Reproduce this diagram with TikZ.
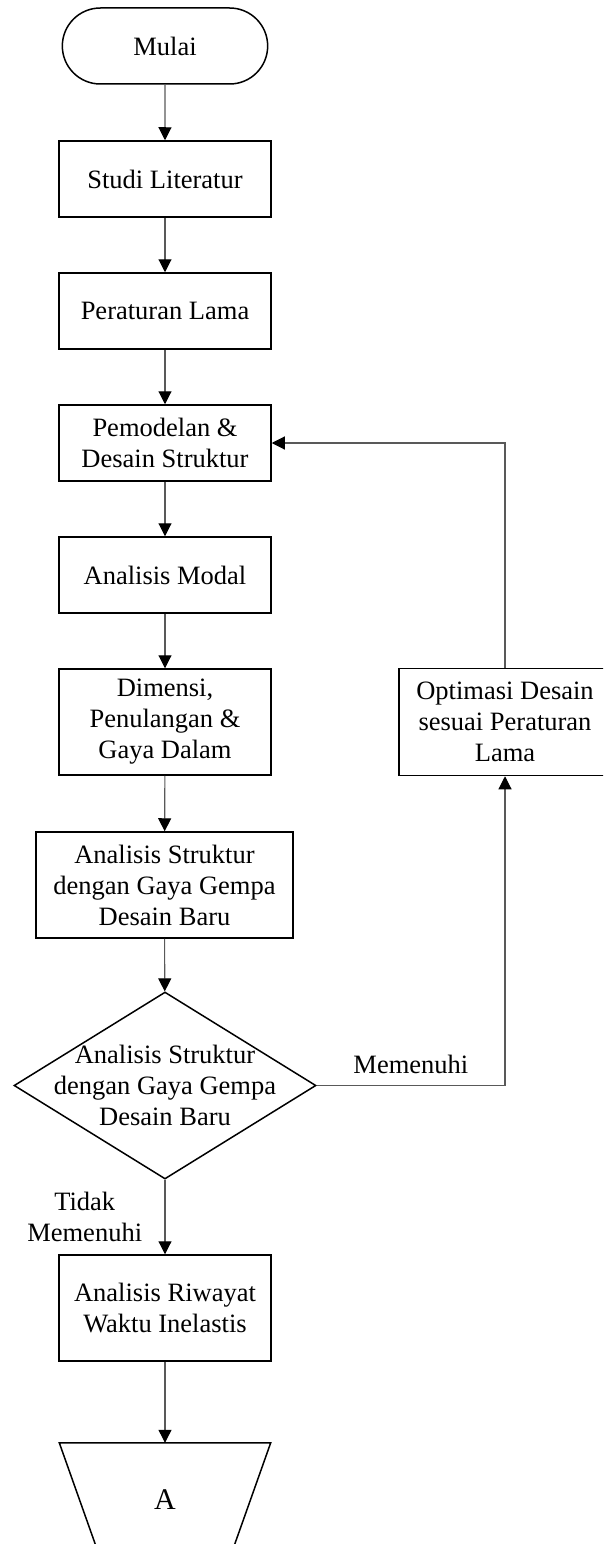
\documentclass[tikz,border=0pt]{standalone}
\usepackage{fontspec}
\setmainfont{Liberation Serif}
\usetikzlibrary{shapes.geometric, shapes.misc, arrows.meta}
\tikzset{
  flow box/.style={rectangle, draw, line width=1.5pt, minimum width=212pt, minimum height=76pt, align=center, inner sep=2pt},
  terminal/.style={rounded rectangle, draw, line width=1.5pt, minimum width=212pt, minimum height=76pt},
  decision/.style={diamond, draw, line width=1.5pt, minimum width=302pt, minimum height=187pt, inner sep=0pt},
  offpage/.style={rectangle, minimum width=211pt, minimum height=114pt, inner sep=0pt, font=\fontsize{30}{34}\selectfont},
  flow line/.style={draw=black!65, line width=1.1pt, -{Triangle[length=13pt, width=13pt, black]}},
  flow text/.style={align=center, font=\fontsize{26.5}{31}\selectfont},
}

\begin{document}
\begin{tikzpicture}[x=1pt, y=-1pt, every node/.style={flow text}]
  \useasboundingbox (0,0) rectangle (603,1544);
  \clip (0,0) rectangle (603,1544);
  % main column
  \node[terminal] (start) at (165,46)  {Mulai};
  \node[flow box] (lit)   at (165,179) {Studi Literatur};
  \node[flow box] (old)   at (165,311) {Peraturan Lama};
  \node[flow box] (model) at (165,443) {Pemodelan \&\\Desain Struktur};
  \node[flow box] (modal) at (165,575) {Analisis Modal};
  \node[flow box, minimum height=106pt] (dim) at (165,722) {Dimensi,\\Penulangan \&\\Gaya Dalam};
  \node[flow box, minimum width=257pt, minimum height=106pt] (anl) at (164.5,885)
    {Analisis Struktur\\dengan Gaya Gempa\\Desain Baru};
  \node[decision, label={[flow text]center:{Analisis Struktur\\dengan Gaya Gempa\\Desain Baru}}]
    (chk) at (165,1085.5) {};
  \node[flow box, minimum height=106pt] (thd) at (165,1308) {Analisis Riwayat\\Waktu Inelastis};
  \node[offpage] (conA) at (165,1500) {A};
  \draw[line width=1.5pt] (conA.north west) -- (conA.north east)
    -- ([xshift=-40.6pt]conA.south east) -- ([xshift=40.6pt]conA.south west) -- cycle;
  % side branch
  \node[flow box, minimum height=107pt] (opt) at (505,722) {Optimasi Desain\\sesuai Peraturan\\Lama};

  \foreach \a/\b in {start/lit, lit/old, old/model, model/modal, modal/dim, dim/anl, anl/chk, thd/conA}
    \draw[flow line] (\a) -- (\b);
  \draw[flow line] (chk) -- node[left, xshift=-19pt] (lblno) {Tidak\\Memenuhi} (thd);
  \draw[flow line] (chk.east) -| node[pos=0.25, above, yshift=8pt] (lblyes) {Memenuhi} (opt.south);
  \draw[flow line] (opt.north) |- (model.east);
\end{tikzpicture}
\end{document}
